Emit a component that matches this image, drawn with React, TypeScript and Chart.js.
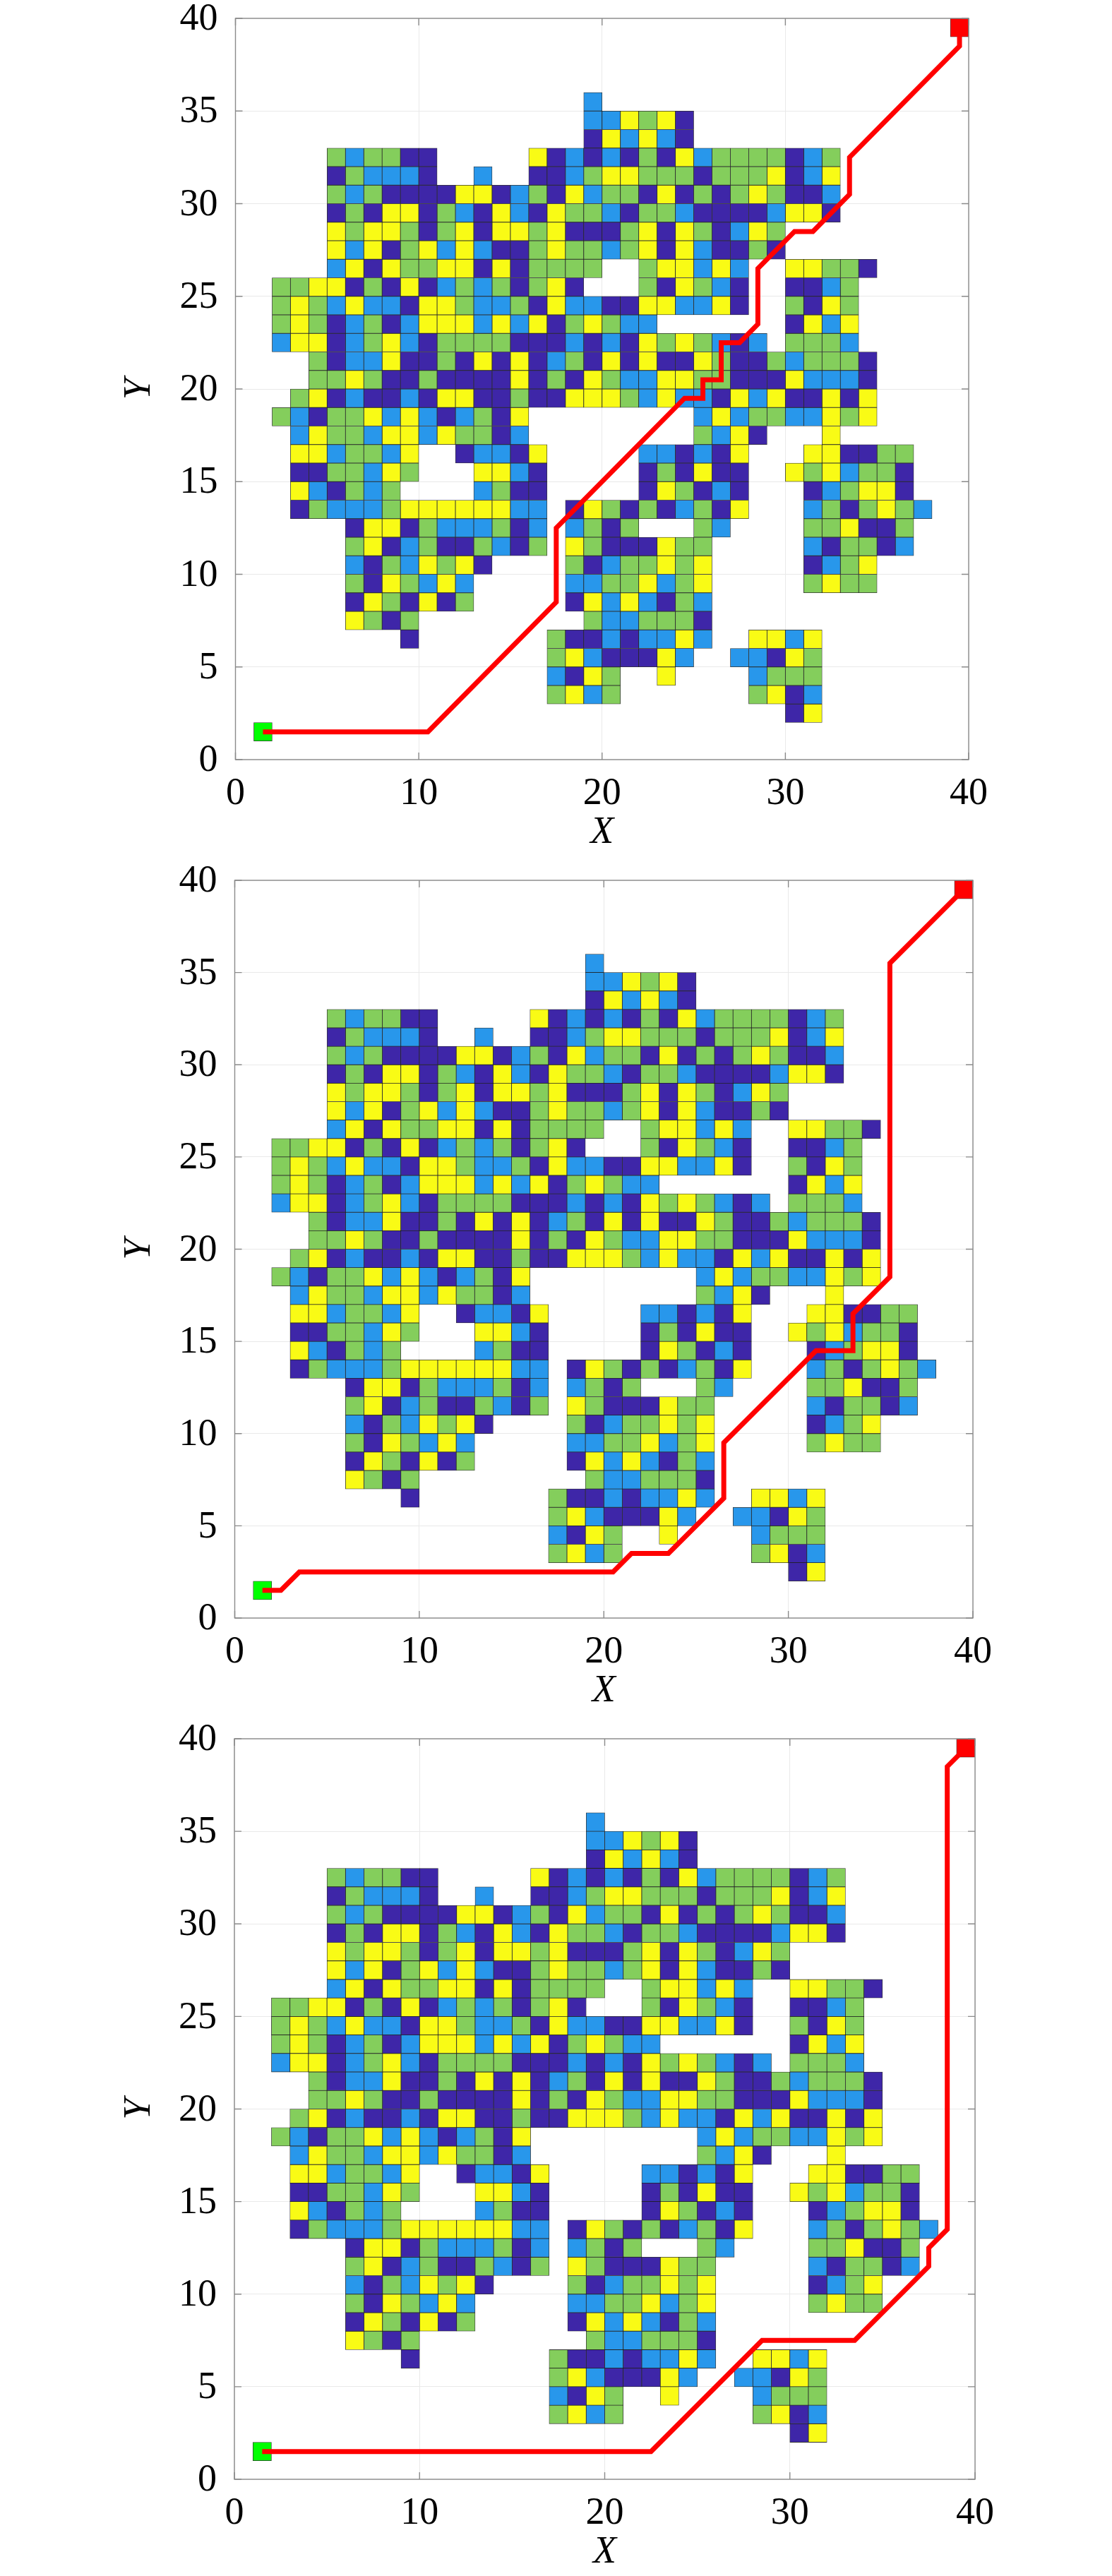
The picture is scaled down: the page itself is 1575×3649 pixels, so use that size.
import React, { useEffect, useRef } from "react";
import { Chart, registerables } from "chart.js";

Chart.register(...registerables);

// Occupied cells: row number (lower edge on Y), first column (lower edge on X), one letter per cell.
const cellRowNumbers = [35, 34, 33, 32, 31, 30, 29, 28, 27, 26, 25, 24, 23, 22, 21, 20, 19, 18, 17, 16, 15, 14, 13, 12, 11, 10, 9, 8, 7, 6, 5, 4, 3, 2];
const cellFirstColumns = [19, 19, 19, 5, 5, 5, 5, 5, 5, 5, 2, 2, 2, 2, 4, 4, 3, 2, 3, 3, 3, 3, 3, 6, 6, 6, 6, 6, 6, 9, 17, 17, 17, 30];
const cellLetters = [
  "B",
  "BBYGYD",
  "DYBYBD",
  "GBGGDD.....YDBDBDGDYBGGGGDBG",
  "DGBBBD..B..DDBGYYGGGDGGGYDBY",
  "GBGDDDDYYDBGDYBGGDYDGDGYGDDB",
  "DGDYYDGBDYBDYGGBDGGBDDDDBYYD",
  "YGYYGDGYDYYGYDDDGYDYGDBYG",
  "YBYDGYBYBDDGYGGBGYDYBDDGD",
  "BYDYGGYYDYDGGGG..GYYBYB..YYGGD",
  "GGYYDGDYDBGBGDGYD...GDYGBD..DDBG",
  "GYGBYBBDYYGBBGDYBBDDYYBBYD..GDYG",
  "GYGDBGDBYYYBYBYDGYGBB.......DYBY",
  "BYYDBGYBDGGGGDDDBDBDYGYGBDB.GGGB",
  "GDBBYDDGDYDYDBGDYDYDDYGDDGBGGGD",
  "GGYGDDGDDDDYDGDYGBBYYGGDDDYBBBD",
  "GYDBDDBDYYDDGDDYYYGBYBBDYBYDDYDY",
  "GBDGGYBYBDBGDY.........BYBGGBBYGY",
  "BYGGBYYBYGGDB.........GBYD...Y",
  "YYBGGBY..DBBDY.....BBDBDY...YYDDGG",
  "DDGGBYG...YYBD.....DGDYDD..YGYBGGD",
  "YBDGBG....BGDD.....DYGDBD...DBGYYD",
  "DGBBBGYYYYYYBB.DYGDGDBGDY...BGDGYGB",
  "DYYDGBBBGDB.BGDG...GB....GGYDDG",
  "GYDBGDDGBDG.YGDDDYGG.....BDGGDB",
  "BDGBYGYD....GDBGGYGY.....DBGY",
  "GDYGBYB.....BBGGYBGY.....GYGG",
  "DYGDYDG.....DYBYBDGB",
  "YGDG.........GBBGGGD",
  "D.......GDDBDBBYB..YYBY",
  "GYBDDDYB..BBDYG",
  "BDYG..Y....BGGG",
  "GYBG.......GYDB",
  "DY",
];

const pathOneX = [1.5, 10.5, 17.5, 17.5, 24.5, 25.5, 25.5, 26.5, 26.5, 27.5, 28.5, 28.5, 30.5, 31.5, 33.5, 33.5, 39.5, 39.5];
const pathOneY = [1.5, 1.5, 8.5, 12.5, 19.5, 19.5, 20.5, 20.5, 22.5, 22.5, 23.5, 26.5, 28.5, 28.5, 30.5, 32.5, 38.5, 39.5];
const pathTwoX = [1.5, 2.5, 3.5, 20.5, 21.5, 23.5, 26.5, 26.5, 31.5, 33.5, 33.5, 35.5, 35.5, 39.5];
const pathTwoY = [1.5, 1.5, 2.5, 2.5, 3.5, 3.5, 6.5, 9.5, 14.5, 14.5, 16.5, 18.5, 35.5, 39.5];
const pathThreeX = [1.5, 22.5, 28.5, 33.5, 37.5, 37.5, 38.5, 38.5, 39.5];
const pathThreeY = [1.5, 1.5, 7.5, 7.5, 11.5, 12.5, 13.5, 38.5, 39.5];

const startCell = [1, 1];
const goalCell = [39, 39];
const axisMax = 40;
const xTickStep = 10;
const yTickStep = 5;
const xAxisLabel = "X";
const yAxisLabel = "Y";

const palette: Record<string, string> = { D: "#3E26A8", B: "#2897EB", G: "#84CE5C", Y: "#F9FB15" };
const SERIF = '"Liberation Serif", serif';

const panels = [
  { canvasTop: 0, canvasH: 1215, left: 333.5, right: 1372, top: 26, bottom: 1076, pathX: pathOneX, pathY: pathOneY },
  { canvasTop: 1215, canvasH: 1215, left: 332.5, right: 1378, top: 1247, bottom: 2292, pathX: pathTwoX, pathY: pathTwoY },
  { canvasTop: 2430, canvasH: 1219, left: 332, right: 1381, top: 2463, bottom: 3512, pathX: pathThreeX, pathY: pathThreeY },
];

function cellsOf(letter: string) {
  const out: { x: number; y: [number, number] }[] = [];
  cellLetters.forEach((text, r) => {
    [...text].forEach((c, i) => {
      if (c === letter) {
        const col = cellFirstColumns[r] + i;
        const row = cellRowNumbers[r];
        out.push({ x: col + 0.5, y: [row, row + 1] });
      }
    });
  });
  return out;
}

const framePlugin = {
  id: "frame",
  afterDatasetsDraw(chart: any) {
    const { ctx, chartArea: a, scales } = chart;
    const len = 10;
    ctx.save();
    ctx.strokeStyle = "#8a8a8a";
    ctx.lineWidth = 1.4;
    ctx.strokeRect(a.left, a.top, a.right - a.left, a.bottom - a.top);
    ctx.beginPath();
    scales.x.ticks.forEach((t: any) => {
      const p = scales.x.getPixelForValue(t.value);
      ctx.moveTo(p, a.bottom);
      ctx.lineTo(p, a.bottom - len);
      ctx.moveTo(p, a.top);
      ctx.lineTo(p, a.top + len);
    });
    scales.y.ticks.forEach((t: any) => {
      const p = scales.y.getPixelForValue(t.value);
      ctx.moveTo(a.left, p);
      ctx.lineTo(a.left + len, p);
      ctx.moveTo(a.right, p);
      ctx.lineTo(a.right - len, p);
    });
    ctx.stroke();
    ctx.restore();
  },
};

function Panel({ spec }: { spec: (typeof panels)[number] }) {
  const ref = useRef<HTMLCanvasElement>(null);
  useEffect(() => {
    const cellW = (spec.right - spec.left) / axisMax;
    const bar = (label: string, data: any[], color: string, order: number, border = "rgba(15,15,15,0.85)") => ({
      type: "bar" as const,
      label,
      data,
      backgroundColor: color,
      borderColor: border,
      borderWidth: 0.8,
      borderSkipped: false,
      barThickness: cellW,
      grouped: false,
      order,
    });
    const plotBottomInCanvas = spec.bottom - spec.canvasTop;
    const chart = new Chart(ref.current!, {
      type: "bar",
      data: {
        datasets: [
          {
            type: "line" as const,
            label: "path",
            data: spec.pathX.map((x, i) => ({ x, y: spec.pathY[i] })),
            borderColor: "#FF0000",
            borderWidth: 7,
            borderJoinStyle: "miter",
            pointRadius: 0,
            tension: 0,
            fill: false,
            order: 0,
          },
          bar("start", [{ x: startCell[0] + 0.5, y: [startCell[1], startCell[1] + 1] }], "#00FF00", 1),
          bar("goal", [{ x: goalCell[0] + 0.5, y: [goalCell[1], goalCell[1] + 1] }], "#FF0000", 1),
          ...Object.keys(palette).map((k) => bar(k, cellsOf(k), palette[k], 2)),
        ] as any,
      },
      options: {
        responsive: false,
        animation: false,
        devicePixelRatio: 1,
        layout: { padding: { top: spec.top - spec.canvasTop, right: 1575 - spec.right, left: 0, bottom: 0 } },
        plugins: { legend: { display: false }, tooltip: { enabled: false } },
        scales: {
          x: {
            type: "linear",
            min: 0,
            max: axisMax,
            offset: false,
            grid: { offset: false, color: "#e9e9e9", lineWidth: 1, drawTicks: false },
            border: { display: false },
            ticks: { stepSize: xTickStep, padding: 16, maxRotation: 0, autoSkip: false, color: "#000", font: { family: SERIF, size: 54 } },
            title: {
              display: true,
              text: xAxisLabel,
              color: "#000",
              font: { family: SERIF, size: 54, style: "italic", lineHeight: 1 },
              padding: { top: 0, bottom: spec.canvasH - plotBottomInCanvas - 104 - 27 },
            },
            afterFit(scale: any) {
              scale.height = spec.canvasH - plotBottomInCanvas;
              scale.paddingLeft = 0;
              scale.paddingRight = 0;
            },
          },
          y: {
            min: 0,
            max: axisMax,
            grid: { color: "#e9e9e9", lineWidth: 1, drawTicks: false },
            border: { display: false },
            ticks: { stepSize: yTickStep, padding: 25, labelOffset: 2, autoSkip: false, color: "#000", font: { family: SERIF, size: 54 } },
            title: {
              display: true,
              text: yAxisLabel,
              color: "#000",
              font: { family: SERIF, size: 54, style: "italic", lineHeight: 1 },
              padding: { top: 171, bottom: 0 },
            },
            afterFit(scale: any) {
              scale.width = spec.left;
              scale.paddingTop = 0;
              scale.paddingBottom = 0;
            },
          },
        },
      } as any,
      plugins: [framePlugin],
    });
    return () => chart.destroy();
  }, [spec]);
  return (
    <canvas
      ref={ref}
      width={1575}
      height={spec.canvasH}
      style={{ position: "absolute", left: 0, top: spec.canvasTop, width: 1575, height: spec.canvasH, display: "block" }}
    />
  );
}

export default function App() {
  return (
    <div style={{ position: "absolute", left: 0, top: 0, width: 1575, height: 3649, background: "#fff", overflow: "hidden" }}>
      {panels.map((p) => (
        <Panel key={p.canvasTop} spec={p} />
      ))}
    </div>
  );
}
